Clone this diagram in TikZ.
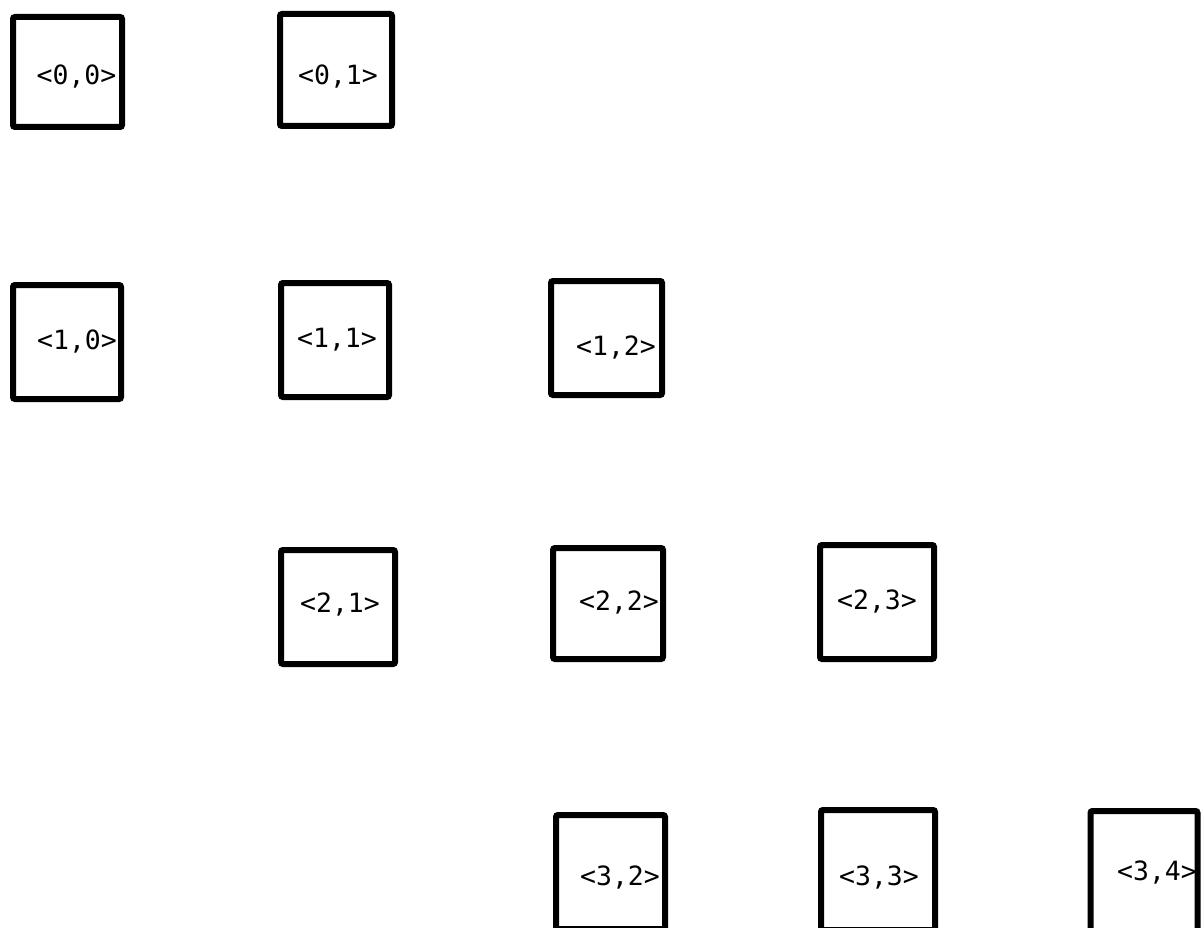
\documentclass[tikz,border=0pt]{standalone}
\usepackage{fontspec}
\newfontfamily\boxmono{DejaVu Sans Mono}
\begin{document}
\begin{tikzpicture}[x=1pt,y=-1pt,
  cell/.style={draw=black, line width=6pt, rounded corners=2pt, fill=white, inner sep=0pt},
  lbl/.style={inner sep=0pt, font=\boxmono\fontsize{26.5}{30}\selectfont, anchor=center}]
\useasboundingbox (0,0) rectangle (1201,928);
% boxes
\node[cell, minimum width=109pt, minimum height=110pt] (b00) at (67.5,72) {};
\node[cell, minimum width=112pt, minimum height=112pt] (b01) at (336,70) {};
\node[cell, minimum width=108pt, minimum height=114pt] (b10) at (67,342) {};
\node[cell, minimum width=108pt, minimum height=114pt] (b11) at (335,340) {};
\node[cell, minimum width=111pt, minimum height=114pt] (b12) at (606.5,338) {};
\node[cell, minimum width=114pt, minimum height=114pt] (b21) at (338,607) {};
\node[cell, minimum width=110pt, minimum height=111pt] (b22) at (608,603.5) {};
\node[cell, minimum width=114pt, minimum height=114pt] (b23) at (877,602) {};
\node[cell, minimum width=109pt, minimum height=114pt] (b32) at (610.5,872) {};
\node[cell, minimum width=114pt, minimum height=120pt] (b33) at (878,870) {};
\node[cell, minimum width=107pt, minimum height=120pt] (b34) at (1144,871) {};
% labels
\node[lbl] (l00) at (76.5,77) {<0,0>};
\node[lbl] (l01) at (338,77) {<0,1>};
\node[lbl] (l10) at (77,342) {<1,0>};
\node[lbl] (l11) at (337,340) {<1,1>};
\node[lbl] (l12) at (616,348) {<1,2>};
\node[lbl] (l21) at (340,605) {<2,1>};
\node[lbl] (l22) at (619,603) {<2,2>};
\node[lbl] (l23) at (877,602) {<2,3>};
\node[lbl] (l32) at (620,878) {<3,2>};
\node[lbl] (l33) at (879,878) {<3,3>};
\node[lbl] (l34) at (1157,873) {<3,4>};
\end{tikzpicture}
\end{document}
